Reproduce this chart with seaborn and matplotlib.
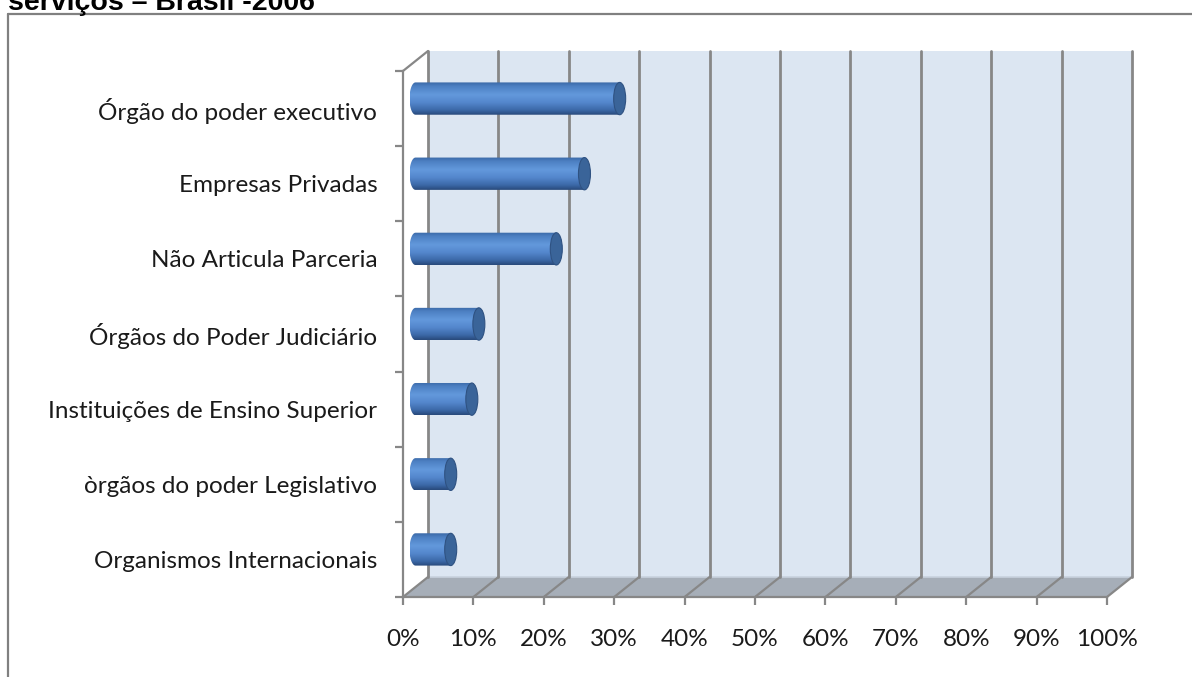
import numpy as np
import pandas as pd
import matplotlib
matplotlib.use("Agg")
import matplotlib.pyplot as plt
import seaborn as sns
from matplotlib.patches import Polygon, Ellipse, PathPatch
from matplotlib.path import Path
from matplotlib.colors import LinearSegmentedColormap
from matplotlib.transforms import ScaledTranslation
from matplotlib.lines import Line2D
from matplotlib.ticker import FixedLocator, PercentFormatter

# ---- data -------------------------------------------------------------
categories = [
    "Órgão do poder executivo",
    "Empresas Privadas",
    "Não Articula Parceria",
    "Órgãos do Poder Judiciário",
    "Instituições de Ensino Superior",
    "òrgãos do poder Legislativo",
    "Organismos Internacionais",
]
values = [29, 24, 20, 9, 8, 5, 5]
x_ticks = [0, 10, 20, 30, 40, 50, 60, 70, 80, 90, 100]
title = "serviços – Brasil -2006"

df = pd.DataFrame({"categoria": categories, "valor": values})

# ---- figure / axes ----------------------------------------------------
W, H, DPI = 1192, 677, 100
sns.set_theme(style="white")
plt.rcParams["font.family"] = ["Lato", "DejaVu Sans"]

fig = plt.figure(figsize=(W / DPI, H / DPI), dpi=DPI)
fig.patch.set_facecolor("white")

# front plane of the 3-D box, in pixels
left_px, right_px, top_px, bottom_px = 403, 1107, 71, 597
ax = fig.add_axes([left_px / W, 1 - bottom_px / H,
                   (right_px - left_px) / W, (bottom_px - top_px) / H])
ax.set_facecolor("none")

n = len(categories)
ax.set_xlim(0, 100)
ax.set_ylim(n - 0.5, -0.5)

# depth of the box (pixels) converted to data units
DEPTH_X_PX, DEPTH_Y_PX = 25, 20
dx = DEPTH_X_PX * 100 / (right_px - left_px)
dy = DEPTH_Y_PX * n / (bottom_px - top_px)

wall_col = "#DCE6F2"
floor_col = "#A6AEB8"
grid_col = "#878787"
y_top, y_bot = -0.5, n - 0.5

# back wall
ax.add_patch(Polygon([(dx, y_top - dy), (100 + dx, y_top - dy),
                      (100 + dx, y_bot - dy), (dx, y_bot - dy)],
                     closed=True, facecolor=wall_col, edgecolor="none",
                     zorder=0, clip_on=False))
# floor
ax.add_patch(Polygon([(0, y_bot), (100, y_bot), (100 + dx, y_bot - dy),
                      (dx, y_bot - dy)], closed=True, facecolor=floor_col,
                     edgecolor="none", zorder=0.5, clip_on=False))
# side wall
ax.add_patch(Polygon([(0, y_top), (dx, y_top - dy), (dx, y_bot - dy),
                      (0, y_bot)], closed=True, facecolor="white",
                     edgecolor="none", zorder=0.5, clip_on=False))
# lighter seam between wall and floor
ax.add_line(Line2D([dx, 100 + dx], [y_bot - dy, y_bot - dy], color="#C8D2DE",
                   lw=1.2, zorder=0.6, clip_on=False))

# grid lines on the back wall and across the floor
for k in x_ticks:
    ax.add_line(Line2D([k + dx, k + dx], [y_top - dy, y_bot - dy],
                       color=grid_col, lw=2, zorder=1, clip_on=False))
    ax.add_line(Line2D([k, k + dx], [y_bot, y_bot - dy],
                       color=grid_col, lw=1.6, zorder=1, clip_on=False))
# top edge of the side wall
ax.add_line(Line2D([0, dx], [y_top, y_top - dy], color=grid_col, lw=1.6,
                   zorder=1, clip_on=False))

# ---- bars --------------------------------------------------------------
bar_w = 0.43
sns.barplot(data=df, x="valor", y="categoria", orient="h", width=bar_w,
            color="#4F81BD", ax=ax, zorder=3)

mid_shift = ScaledTranslation(DEPTH_X_PX / 2 / DPI, DEPTH_Y_PX / 2 / DPI,
                              fig.dpi_scale_trans)
bar_trans = ax.transData + mid_shift

cyl_cmap = LinearSegmentedColormap.from_list(
    "cyl", [(0.0, "#3A68A6"), (0.12, "#4C7FC2"), (0.38, "#6399DC"),
            (0.62, "#5487CD"), (0.85, "#3C69A8"), (1.0, "#28497A")])
grad = np.linspace(0, 1, 128).reshape(-1, 1)

rx = 6 * 100 / (right_px - left_px)  # half-width of the end ellipses
for p in list(ax.patches):
    if not hasattr(p, "get_width") or p.get_zorder() != 3:
        continue
    x0, y0 = p.get_x(), p.get_y()
    x1 = x0 + p.get_width()
    h = p.get_height()
    yc = y0 + h / 2
    p.set_transform(bar_trans)
    p.set_facecolor("none")
    p.set_edgecolor("none")

    # cylinder body: rectangle plus rounded left end
    t = np.linspace(0, np.pi, 40)
    arc = np.column_stack([x0 - rx * np.sin(t), yc - h / 2 * np.cos(t)])
    verts = np.vstack([[x1, y0], arc, [x1, y0 + h], [x1, y0]])
    codes = [Path.MOVETO] + [Path.LINETO] * (len(verts) - 2) + [Path.CLOSEPOLY]
    body = PathPatch(Path(verts, codes), facecolor="none", edgecolor="none",
                     transform=bar_trans)
    ax.add_patch(body)
    im = ax.imshow(grad, cmap=cyl_cmap, aspect="auto", interpolation="bicubic",
                   extent=(x0 - rx, x1, y0 + h, y0), zorder=3)
    im.set_transform(bar_trans)
    im.set_clip_path(body)

    # end cap
    ax.add_patch(Ellipse((x1, yc), 2 * rx, h, facecolor="#3A6499",
                         edgecolor="#2F5282", lw=0.8, transform=bar_trans,
                         zorder=4))

ax.set_xlim(0, 100)
ax.set_ylim(n - 0.5, -0.5)

# ---- axes styling -------------------------------------------------------
for side in ["top", "right"]:
    ax.spines[side].set_visible(False)
for side in ["left", "bottom"]:
    ax.spines[side].set_color(grid_col)
    ax.spines[side].set_linewidth(1.6)
    ax.spines[side].set_zorder(2)

ax.set_xlabel("")
ax.set_ylabel("")
ax.xaxis.set_major_locator(FixedLocator(x_ticks))
ax.xaxis.set_major_formatter(PercentFormatter(decimals=0))
ax.tick_params(axis="x", which="major", direction="out", length=6, width=1.6,
               color=grid_col, pad=17, labelsize=17.5, labelcolor="#1a1a1a",
               bottom=True)
ax.yaxis.set_minor_locator(FixedLocator(np.arange(-0.5, n, 1.0)))
ax.tick_params(axis="y", which="minor", direction="out", length=6, width=1.6,
               color=grid_col, left=True)
ax.tick_params(axis="y", which="major", length=0, pad=18.5, labelsize=17.5,
               labelcolor="#1a1a1a")
ax.grid(False)

# ---- frame and title -----------------------------------------------------
fig.add_artist(Line2D([8 / W, 8 / W], [0, 1 - 14 / H], color="#808080",
                      lw=1.6, transform=fig.transFigure))
fig.add_artist(Line2D([8 / W, 1], [1 - 14 / H, 1 - 14 / H], color="#808080",
                      lw=1.6, transform=fig.transFigure))
fig.text(8 / W, 1 - 9.5 / H, title, ha="left", va="baseline",
         fontsize=20.5, fontweight="bold", color="black",
         family=["Liberation Sans", "DejaVu Sans"])

fig.savefig("out.png", dpi=DPI, facecolor="white")
